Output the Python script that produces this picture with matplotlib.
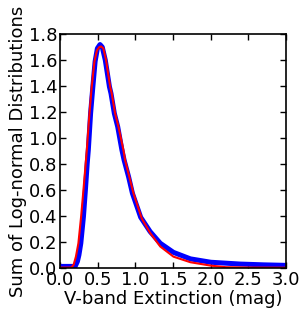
import numpy as np
import matplotlib
matplotlib.use('Agg')
import matplotlib.pyplot as plt

#---Data---
x_red = [0.0, 0.15, 0.18, 0.21, 0.243, 0.279, 0.31, 0.34, 0.355, 0.39, 0.42, 0.456,
         0.49, 0.52, 0.545, 0.575, 0.61, 0.665, 0.686, 0.73, 0.775, 0.84, 0.863, 0.92,
         0.974, 1.085, 1.195, 1.33, 1.505, 1.73, 2.0, 2.2, 2.5, 3.0]
y_red = [0.003, 0.003, 0.025, 0.087, 0.19, 0.395, 0.6, 0.805, 0.91, 1.19, 1.395, 1.59,
         1.675, 1.70, 1.705, 1.69, 1.60, 1.395, 1.343, 1.19, 1.087, 0.91, 0.83, 0.70,
         0.575, 0.38, 0.27, 0.165, 0.087, 0.044, 0.018, 0.006, 0.003, 0.002]

x_blue = [0.0, 0.2, 0.23, 0.25, 0.275, 0.31, 0.336, 0.36, 0.375, 0.405, 0.435, 0.465,
          0.495, 0.53, 0.56, 0.60, 0.655, 0.676, 0.72, 0.765, 0.82, 0.85, 0.91, 0.96,
          1.07, 1.195, 1.33, 1.505, 1.73, 2.0, 2.39, 2.7, 3.0]
y_blue = [0.012, 0.012, 0.05, 0.10, 0.19, 0.395, 0.6, 0.805, 0.91, 1.19, 1.395, 1.59,
          1.69, 1.72, 1.70, 1.60, 1.395, 1.343, 1.19, 1.087, 0.91, 0.83, 0.70, 0.575,
          0.39, 0.28, 0.19, 0.12, 0.07, 0.044, 0.03, 0.024, 0.02]

xticks = np.arange(0, 3.01, 0.5)
yticks = np.arange(0, 1.81, 0.2)

#---Plot---
plt.rcParams['font.size'] = 13
fig = plt.figure(figsize=(3.05, 3.19), dpi=100)
ax = fig.add_axes([0.197, 0.16, 0.741, 0.733])
ax.plot(x_blue, y_blue, color='blue', linewidth=3.6)
ax.plot(x_red, y_red, color='red', linewidth=1.5)
ax.set_xlim(0, 3)
ax.set_ylim(0, 1.8)
ax.set_xticks(xticks)
ax.set_yticks(yticks)
ax.set_xticklabels(['%.1f' % v for v in xticks])
ax.set_yticklabels(['%.1f' % v for v in yticks])
ax.tick_params(direction='in', top=True, right=True, length=4, width=1, pad=2)
for s in ax.spines.values():
    s.set_linewidth(1.2)
ax.set_xlabel('V-band Extinction (mag)', labelpad=1)
ax.set_ylabel('Sum of Log-normal Distributions', labelpad=1)
fig.savefig('out.png', dpi=100, facecolor='white')
